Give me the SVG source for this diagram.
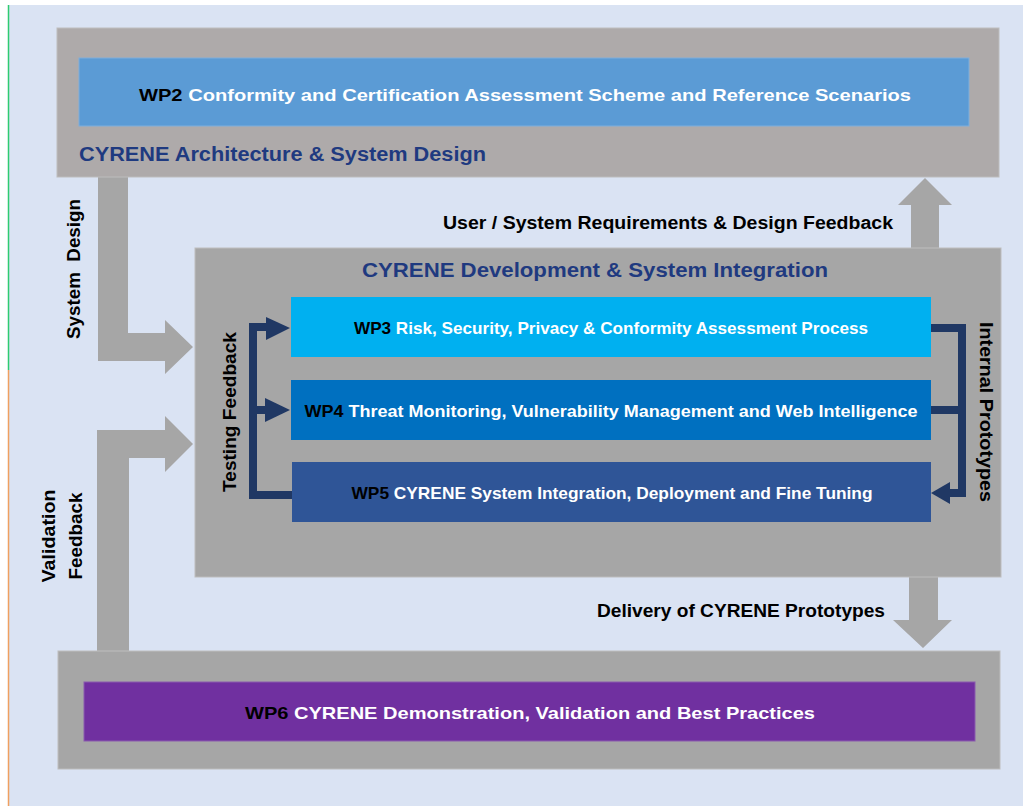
<svg xmlns="http://www.w3.org/2000/svg" width="1023" height="806" viewBox="0 0 1023 806">
<style>
text{font-family:"Liberation Sans",Arial,sans-serif;font-weight:bold;}
.lbl{fill:#000;font-size:18px;}
.ttl{fill:#1F3A80;font-size:20px;}
.wp{fill:#fff;font-size:17px;}
.wpk{fill:#000;}
.gbox{fill:#A6A6A6;stroke:#BDBDBD;stroke-width:1;}
.garrow{fill:#A6A6A6;}
.navy{fill:none;stroke:#203864;stroke-width:8;}
.head{fill:#203864;}
</style>
<rect x="0" y="0" width="1023" height="806" fill="#ffffff"/>
<rect x="8" y="5" width="1015" height="801" fill="#DAE3F3"/>
<line x1="8.5" y1="5" x2="8.5" y2="370" stroke="#2ECC71" stroke-width="1.5"/>
<line x1="8.5" y1="370" x2="8.5" y2="806" stroke="#F0A060" stroke-width="1.5"/>

<g id="connectors">
  <polygon class="garrow" points="98,177 128,177 128,333 165,333 165,320 193,347 165,374 165,361 98,361"/>
  <polygon class="garrow" points="97,651 97,430 165,430 165,416 193,444 165,472 165,458 129,458 129,651"/>
  <polygon class="garrow" points="911,249 911,205 898,205 925,178 952,205 939,205 939,249"/>
  <polygon class="garrow" points="909,576 938,576 938,620 952,620 923,648 893,620 909,620"/>
  <text class="lbl" transform="translate(80,269) rotate(-90)" text-anchor="middle" xml:space="preserve" textLength="140" lengthAdjust="spacingAndGlyphs">System  Design</text>
  <text class="lbl" transform="translate(55,536) rotate(-90)" text-anchor="middle" textLength="93" lengthAdjust="spacingAndGlyphs">Validation</text>
  <text class="lbl" transform="translate(82,536) rotate(-90)" text-anchor="middle" textLength="87" lengthAdjust="spacingAndGlyphs">Feedback</text>
  <text class="lbl" x="668" y="229" text-anchor="middle" textLength="450" lengthAdjust="spacingAndGlyphs">User / System Requirements &amp; Design Feedback</text>
  <text class="lbl" x="741" y="617" text-anchor="middle" textLength="288" lengthAdjust="spacingAndGlyphs">Delivery of CYRENE Prototypes</text>
</g>

<g id="top-block">
  <rect x="57" y="28" width="942" height="149" fill="#AEAAAA" stroke="#BDBDBD" stroke-width="1"/>
  <text class="ttl" x="79" y="161" font-size="21" textLength="407" lengthAdjust="spacingAndGlyphs">CYRENE Architecture &amp; System Design</text>
</g>
<g id="wp2">
  <rect x="79" y="58" width="890" height="68" fill="#5B9BD5" stroke="#7FAEDC" stroke-width="1"/>
  <text class="wp" x="525" y="101" font-size="19.5" text-anchor="middle" textLength="772" lengthAdjust="spacingAndGlyphs"><tspan class="wpk">WP2</tspan> Conformity and Certification Assessment Scheme and Reference Scenarios</text>
</g>

<g id="middle-block">
  <rect class="gbox" x="195" y="248" width="806" height="329"/>
  <text class="ttl" x="595" y="277" text-anchor="middle" textLength="466" lengthAdjust="spacingAndGlyphs">CYRENE Development &amp; System Integration</text>
</g>

<g id="wp3">
  <rect x="291" y="297" width="640" height="60" fill="#00B0F0"/>
  <text class="wp" x="611" y="334" text-anchor="middle" textLength="514" lengthAdjust="spacingAndGlyphs"><tspan class="wpk">WP3</tspan> Risk, Security, Privacy &amp; Conformity Assessment Process</text>
</g>
<g id="wp4">
  <rect x="291" y="380" width="640" height="60" fill="#0070C0"/>
  <text class="wp" x="611" y="417" text-anchor="middle" textLength="613" lengthAdjust="spacingAndGlyphs"><tspan class="wpk">WP4</tspan> Threat Monitoring, Vulnerability Management and Web Intelligence</text>
</g>
<g id="wp5">
  <rect x="292" y="462" width="639" height="60" fill="#2F5597"/>
  <text class="wp" x="612" y="499" text-anchor="middle" textLength="521" lengthAdjust="spacingAndGlyphs"><tspan class="wpk">WP5</tspan> CYRENE System Integration, Deployment and Fine Tuning</text>
</g>

<g id="internal-connectors">
  <path class="navy" d="M292,495 H253 V327 H270"/>
  <path class="navy" d="M253,410 H268"/>
  <polygon class="head" points="266,317 290,328 266,340"/>
  <polygon class="head" points="265,398 290,410 265,422"/>
  <path class="navy" d="M931,328 H962 V493 H948"/>
  <path class="navy" d="M931,410 H962"/>
  <polygon class="head" points="950,482 931,493 950,504"/>
  <text class="lbl" transform="translate(236,412) rotate(-90)" text-anchor="middle" textLength="160" lengthAdjust="spacingAndGlyphs">Testing Feedback</text>
  <text class="lbl" transform="translate(980,412) rotate(90)" text-anchor="middle" textLength="180" lengthAdjust="spacingAndGlyphs">Internal Prototypes</text>
</g>

<g id="bottom-block">
  <rect class="gbox" x="58" y="651" width="942" height="118"/>
</g>
<g id="wp6">
  <rect x="84" y="682" width="891" height="59" fill="#7030A0" stroke="#8A5AAE" stroke-width="1"/>
  <text class="wp" x="530" y="719" font-size="18" text-anchor="middle" textLength="570" lengthAdjust="spacingAndGlyphs"><tspan class="wpk">WP6</tspan> CYRENE Demonstration, Validation and Best Practices</text>
</g>
</svg>
